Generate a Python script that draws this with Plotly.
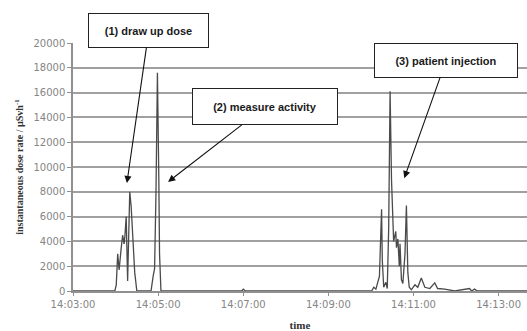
import plotly.graph_objects as go

DAY = "2010-01-01 "

times = [
    "14:03:00", "14:03:59", "14:04:01", "14:04:03", "14:04:05", "14:04:06", "14:04:08",
    "14:04:10", "14:04:12", "14:04:13", "14:04:15", "14:04:17", "14:04:19", "14:04:20",
    "14:04:22", "14:04:25", "14:04:27", "14:04:30",
    "14:04:50", "14:04:53", "14:04:55", "14:04:57", "14:04:58", "14:04:59", "14:05:01",
    "14:05:02", "14:05:04",
    "14:06:58", "14:07:00", "14:07:03",
    "14:10:01", "14:10:04", "14:10:07", "14:10:09", "14:10:12", "14:10:15", "14:10:16",
    "14:10:18", "14:10:21", "14:10:23", "14:10:25", "14:10:27", "14:10:29", "14:10:32",
    "14:10:35", "14:10:36", "14:10:38", "14:10:40", "14:10:41", "14:10:43", "14:10:45",
    "14:10:48", "14:10:50", "14:10:52", "14:10:54", "14:10:57", "14:11:02", "14:11:06",
    "14:11:11", "14:11:16", "14:11:23", "14:11:30", "14:11:34", "14:11:44", "14:11:51",
    "14:11:58", "14:12:19", "14:12:22", "14:12:26", "14:12:30", "14:13:40",
]
dose_rate = [
    0, 0, 500, 3000, 1700, 2500, 3500,
    4500, 3800, 4300, 6000, 800, 5000, 8000,
    6800, 4000, 1500, 0,
    0, 1200, 1800, 8000, 12000, 17600, 9000,
    3000, 0,
    0, 150, 0,
    0, 300, 150, 500, 1200, 6600, 2500,
    300, 700, 200, 5000, 16100, 9000, 4000,
    4800, 3500, 4200, 2000, 3800, 900, 600,
    3000, 6900, 1500, 300, 100, 500, 300,
    1050, 300, 200, 650, 200, 150, 100,
    0, 200, 0, 150, 0, 0,
]

tick_times = ["14:03:00", "14:05:00", "14:07:00", "14:09:00", "14:11:00", "14:13:00"]
y_ticks = list(range(0, 20001, 2000))

labels = ["(1) draw up dose", "(2) measure activity", "(3) patient injection"]
label_tip_times = ["14:04:16", "14:05:14", "14:10:47"]
label_tip_values = [8700, 8800, 9100]

x = [DAY + t for t in times]

fig = go.Figure()
fig.add_trace(go.Scatter(
    x=x, y=dose_rate, mode="lines",
    line=dict(color="#4a4a4a", width=1.3),
    showlegend=False, hoverinfo="skip",
))

box_w = [117, 142, 140]
box_h = [31, 33, 31]
offsets = [(22, -153), (97, -75), (42, -118)]
for lab, tt, tv, w, h, (ax, ay) in zip(labels, label_tip_times, label_tip_values, box_w, box_h, offsets):
    fig.add_annotation(
        x=DAY + tt, y=tv, xref="x", yref="y",
        text="<b>" + lab + "</b>",
        showarrow=True, ax=ax, ay=ay,
        arrowhead=2, arrowsize=1.3, arrowwidth=1.1, arrowcolor="#111111",
        font=dict(family="Liberation Sans, Arial", size=11, color="#1a1a1a"),
        bgcolor="white", bordercolor="#222222", borderwidth=1, borderpad=1,
        width=w, height=h, align="center", valign="middle",
    )

fig.update_layout(
    width=527, height=331,
    margin=dict(l=73, r=0, t=43, b=40),
    paper_bgcolor="white", plot_bgcolor="white",
    xaxis=dict(
        type="date",
        range=[DAY + "14:03:00", DAY + "14:13:40"],
        tickvals=[DAY + t for t in tick_times],
        ticktext=tick_times,
        showgrid=False, zeroline=False,
        showline=True, linecolor="#909090", linewidth=1.5,
        ticks="outside", ticklen=3, tickcolor="#909090",
        tickfont=dict(family="DejaVu Sans", size=10, color="#858585"),
        title=dict(text="<b>time</b>", standoff=16,
                   font=dict(family="Liberation Serif", size=11, color="#333333")),
        automargin=False,
    ),
    yaxis=dict(
        range=[0, 20000],
        tickvals=y_ticks,
        tickformat="d",
        showgrid=True, gridcolor="#a0a0a0", gridwidth=1.5,
        zeroline=False,
        showline=True, linecolor="#909090", linewidth=1.5,
        ticks="outside", ticklen=4, tickcolor="#909090",
        tickfont=dict(family="DejaVu Sans", size=10, color="#858585"),
        title=dict(text="<b>instantaneous dose rate / µSvh<sup>-1</sup></b>", standoff=8,
                   font=dict(family="Liberation Serif", size=10, color="#333333")),
    ),
)

fig.write_html("out.html",
               config={"displayModeBar": False},
               post_script="document.body.style.margin='0';document.body.style.overflow='hidden';")
